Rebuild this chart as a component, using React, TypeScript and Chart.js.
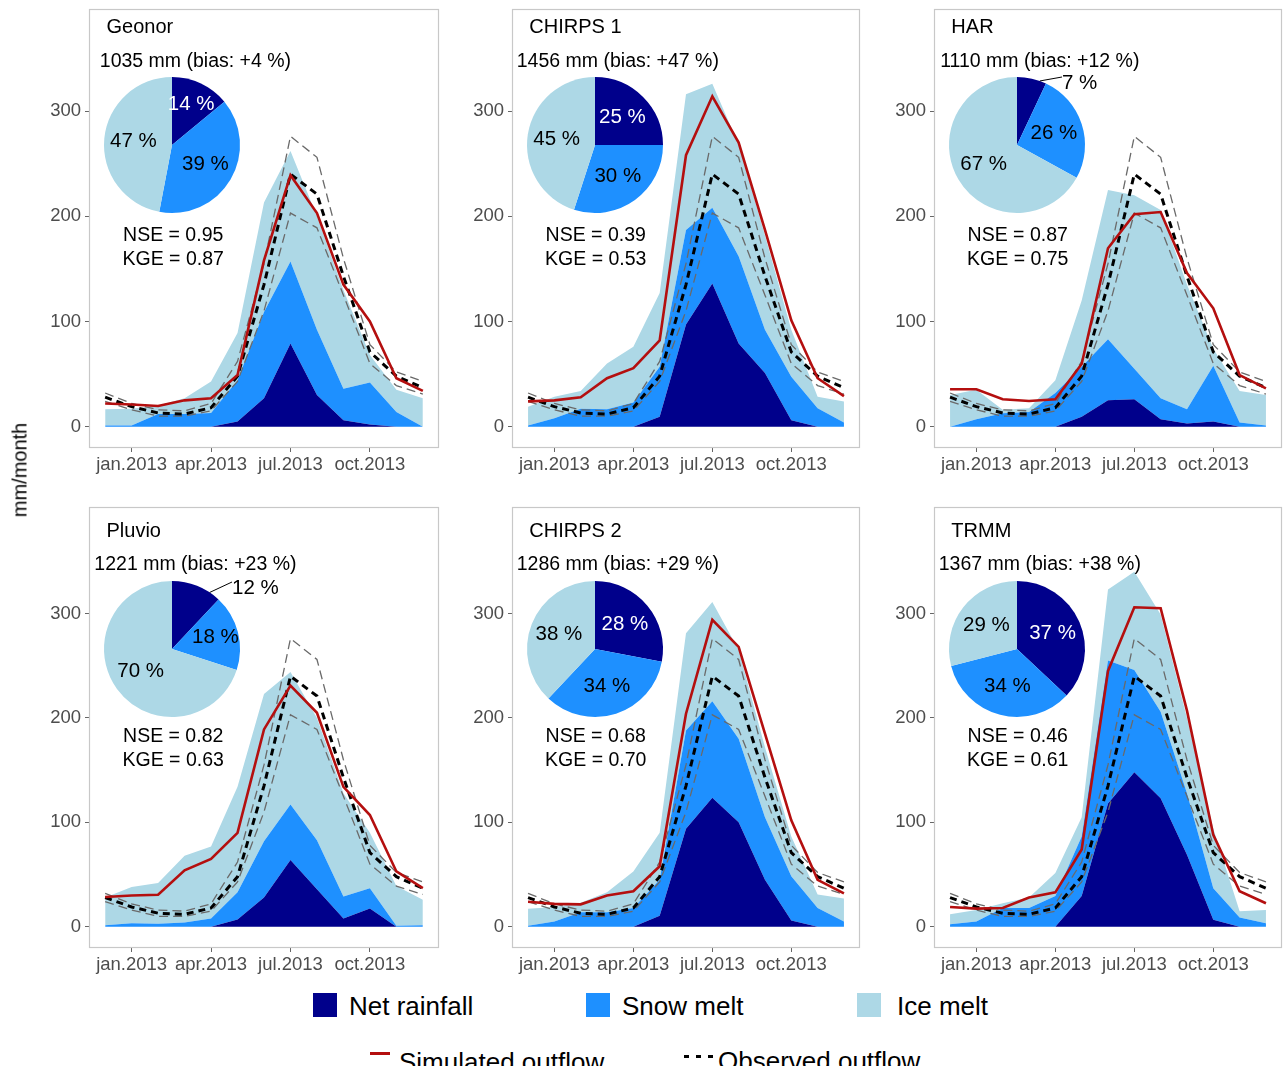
import React, { useEffect, useRef } from "react";
import { Chart, registerables } from "chart.js";
Chart.register(...registerables);

// ---------------- DATA ----------------
const monthLabels = ["dec.2012", "jan.2013", "feb.2013", "mar.2013", "apr.2013", "may.2013", "jun.2013", "jul.2013", "aug.2013", "sep.2013", "oct.2013", "nov.2013", "dec.2013"];
const xTickPositions = [1, 4, 7, 10];
const xTickLabels = ["jan.2013", "apr.2013", "jul.2013", "oct.2013"];
const yTickValues = [0, 100, 200, 300];

const observedOutflow = [28, 19, 13, 12, 18, 48, 135, 240, 221, 143, 71, 48, 37];
const observedUpper = [32, 22, 16, 15, 22, 62, 155, 276, 256, 160, 78, 52, 43];
const observedLower = [24, 16, 10, 10, 15, 43, 110, 203, 189, 125, 60, 39, 31];

const panelNames = ["Geonor", "CHIRPS 1", "HAR", "Pluvio", "CHIRPS 2", "TRMM"];
const annualTotals = [1035, 1456, 1110, 1221, 1286, 1367];
const biasPercent = [4, 47, 12, 23, 29, 38];
const nseValues = ["0.95", "0.39", "0.87", "0.82", "0.68", "0.46"];
const kgeValues = ["0.87", "0.53", "0.75", "0.63", "0.70", "0.61"];

// pie shares: [net rainfall, snow melt, ice melt]
const pieShares = [
  [14, 39, 47],
  [25, 30, 45],
  [7, 26, 67],
  [12, 18, 70],
  [28, 34, 38],
  [37, 34, 29],
];

const netRainfall = [
  [0, 0, 0, 0, 0, 5, 27, 79, 30, 6, 2, 0, 0],
  [0, 0, 0, 0, 0, 9.5, 97, 136, 79, 51, 6, 0, 0],
  [0, 0, 0, 0, 0, 9.5, 25, 26, 7, 3, 5, 0, 0],
  [0, 0, 0, 0, 0, 7, 28, 64, 36, 8, 17.5, 0, 0],
  [0, 0, 0, 0, 0, 10.5, 94, 123.5, 100, 45, 6, 0, 0],
  [0, 0, 0, 0, 0, 29.5, 118, 148, 123, 69, 6.7, 0, 0],
];
const snowMelt = [
  [1, 1, 12, 12, 13, 39, 82, 78, 62, 30, 40, 14, 0],
  [1, 8, 17, 16.5, 23, 47.5, 90, 72, 83, 41, 41.5, 17.5, 4],
  [0, 7, 12.7, 14, 32, 47.5, 58, 29, 20, 13.5, 53, 4, 1],
  [1.5, 3.5, 3, 4, 8, 26, 54, 53, 47, 21, 19.5, 1, 1.5],
  [1, 5, 14, 14, 18, 34.5, 94, 92.5, 80, 60, 42.5, 18, 5],
  [2.5, 5, 18, 18, 29.5, 57, 137, 98, 83, 59, 30.3, 9, 3.5],
];
const iceMelt = [
  [15.5, 16, 8, 15, 30, 45, 104, 105, 108, 94, 26, 21, 27],
  [18, 20.5, 17, 43.5, 53, 70, 129, 118, 106, 90, 44.5, 11, 20],
  [30, 28, 3.3, 3.5, 12, 63, 142, 165, 179, 118.5, 16, 30, 29],
  [26.5, 34.5, 39, 64, 69, 101, 141, 127, 117, 99, 53, 38, 24.5],
  [16.4, 14, 9, 19, 35, 45, 93, 95, 85, 67, 38, 13, 22],
  [9.5, 11, 4.5, 10, 22.1, 18.5, 68, 94, 93, 72, 57, 6, 12.5],
];
const simulatedOutflow = [
  [22, 21, 19.6, 25, 27, 49, 158, 239, 203, 135, 100, 46, 34],
  [24, 25, 28, 46, 55.5, 82, 258, 314, 270, 187, 101, 46, 29],
  [35.5, 35.5, 26, 24.4, 26, 59.6, 169.5, 202, 204, 146, 112.5, 49, 36.4],
  [28.5, 30, 30.7, 54, 65, 90, 189, 231, 205, 134, 107, 53, 37],
  [24, 22, 21.5, 30, 34, 58, 204, 294, 268, 185, 102, 45, 32],
  [19, 17.4, 18, 28, 33, 74, 245, 306, 305, 207, 88, 34, 22.5],
];

const legendComponents = ["Net rainfall", "Snow melt", "Ice melt"];

// ---------------- STYLE / LAYOUT ----------------
const FONT = '"Liberation Sans", Arial, Helvetica, sans-serif';
const NAVY = "#00008B";
const DODGER = "#1E90FF";
const LIGHT = "#ADD8E6";
const RED = "#B40F0F";
const COMPONENT_COLORS = [NAVY, DODGER, LIGHT];

const COL_LEFT = [89, 512, 934];
const COL_RIGHT = [439, 860, 1282];
const ROW_TOP = [9, 507];
const ROW_BOTTOM = [448, 948];
const Y_RANGE = [
  [-20.3, 397],
  [-20.3, 402],
];
const X_MIN = -0.61;
const X_MAX = 12.61;
const AXIS_W = 60;
const AXIS_H = 36;
const PAD_TOP = 2;
const PAD_RIGHT = 3;

const TITLE_POS = { x: 0.05, y: 379 };
const TOTAL_POS = { x: 3.41, y: 347 };
const NSE_POS = { x: 2.57, y: 182 };
const KGE_POS = { x: 2.57, y: 159 };

const PIE_CENTER_DX = 82.5;
const PIE_CENTER_Y = [145.3, 649];
const PIE_RADIUS = 68;
const PIE_CANVAS = 240;
const PIE_OUTSIDE = [null, null, { dx: 45, dy: -62 }, { dx: 60, dy: -61 }, null, null];

const toPoints = (arr: number[]) => arr.map((v, i) => ({ x: i, y: v }));

function Panel({ idx }: { idx: number }) {
  const ref = useRef<HTMLCanvasElement | null>(null);
  const pieRef = useRef<HTMLCanvasElement | null>(null);
  const row = Math.floor(idx / 3);
  const col = idx % 3;
  const left = COL_LEFT[col] - AXIS_W;
  const top = ROW_TOP[row] - PAD_TOP;
  const w = COL_RIGHT[col] - COL_LEFT[col] + AXIS_W + PAD_RIGHT;
  const h = ROW_BOTTOM[row] - ROW_TOP[row] + PAD_TOP + AXIS_H;
  const pcx = COL_LEFT[col] + PIE_CENTER_DX;
  const pcy = PIE_CENTER_Y[row];

  useEffect(() => {
    const lineBase = { pointRadius: 0, tension: 0, fill: false };
    const areaBase = {
      pointRadius: 0,
      tension: 0,
      stack: "components",
      borderWidth: 0,
      borderColor: "rgba(0,0,0,0)",
      order: 10,
    };
    const tickFont = { family: FONT, size: 18.5 };
    const textPlugin = {
      id: "panelText",
      afterDatasetsDraw(chart: any) {
        const { ctx, scales } = chart;
        const xs = scales.x;
        const ys = scales.y;
        ctx.save();
        ctx.fillStyle = "#000";
        ctx.textBaseline = "middle";
        ctx.font = `20px ${FONT}`;
        ctx.textAlign = "left";
        ctx.fillText(panelNames[idx], xs.getPixelForValue(TITLE_POS.x), ys.getPixelForValue(TITLE_POS.y));
        ctx.font = `19.5px ${FONT}`;
        ctx.textAlign = "center";
        ctx.fillText(
          `${annualTotals[idx]} mm (bias: +${biasPercent[idx]} %)`,
          xs.getPixelForValue(TOTAL_POS.x),
          ys.getPixelForValue(TOTAL_POS.y)
        );
        ctx.fillText(`NSE = ${nseValues[idx]}`, xs.getPixelForValue(NSE_POS.x), ys.getPixelForValue(NSE_POS.y));
        ctx.fillText(`KGE = ${kgeValues[idx]}`, xs.getPixelForValue(KGE_POS.x), ys.getPixelForValue(KGE_POS.y));
        ctx.restore();
      },
      afterDraw(chart: any) {
        const { ctx, chartArea } = chart;
        ctx.save();
        ctx.strokeStyle = "#c8c8c8";
        ctx.lineWidth = 1.2;
        ctx.strokeRect(chartArea.left + 0.5, chartArea.top + 0.5, chartArea.right - chartArea.left - 1, chartArea.bottom - chartArea.top - 1);
        ctx.restore();
      },
    };

    const chart = new Chart(ref.current as HTMLCanvasElement, {
      type: "line",
      data: {
        datasets: [
          { ...areaBase, label: legendComponents[0], data: toPoints(netRainfall[idx]), fill: "origin", backgroundColor: NAVY },
          { ...areaBase, label: legendComponents[1], data: toPoints(snowMelt[idx]), fill: "-1", backgroundColor: DODGER },
          { ...areaBase, label: legendComponents[2], data: toPoints(iceMelt[idx]), fill: "-1", backgroundColor: LIGHT },
          { ...lineBase, label: "upper", stack: "u", data: toPoints(observedUpper), borderColor: "#6a6a6a", borderWidth: 1.3, borderDash: [9, 5], order: 4 },
          { ...lineBase, label: "lower", stack: "l", data: toPoints(observedLower), borderColor: "#6a6a6a", borderWidth: 1.3, borderDash: [9, 5], order: 4 },
          { ...lineBase, label: "Observed outflow", stack: "o", data: toPoints(observedOutflow), borderColor: "#000", borderWidth: 3, borderDash: [7, 5], order: 3 },
          { ...lineBase, label: "Simulated outflow", stack: "s", data: toPoints(simulatedOutflow[idx]), borderColor: RED, borderWidth: 2.6, order: 2 },
        ] as any,
      },
      options: {
        responsive: false,
        animation: false,
        events: [],
        layout: { padding: { top: PAD_TOP, right: PAD_RIGHT, left: 0, bottom: 0 } },
        plugins: { legend: { display: false }, tooltip: { enabled: false } },
        scales: {
          x: {
            type: "linear",
            min: X_MIN,
            max: X_MAX,
            afterBuildTicks: (s: any) => {
              s.ticks = xTickPositions.map((v) => ({ value: v }));
            },
            afterFit: (s: any) => {
              s.height = AXIS_H;
              s.paddingLeft = 0;
              s.paddingRight = 0;
              s.paddingTop = 0;
              s.paddingBottom = 0;
            },
            ticks: {
              autoSkip: false,
              maxRotation: 0,
              padding: 2,
              color: "#4d4d4d",
              font: tickFont,
              callback: (v: any) => {
                const k = xTickPositions.indexOf(Number(v));
                return k >= 0 ? xTickLabels[k] : "";
              },
            },
            grid: { drawOnChartArea: false, drawTicks: true, tickLength: 4, color: "#666" },
            border: { display: false },
          },
          y: {
            type: "linear",
            stacked: true,
            min: Y_RANGE[row][0],
            max: Y_RANGE[row][1],
            afterBuildTicks: (s: any) => {
              s.ticks = yTickValues.map((v) => ({ value: v }));
            },
            afterFit: (s: any) => {
              s.width = AXIS_W;
              s.paddingTop = 0;
              s.paddingBottom = 0;
              s.paddingLeft = 0;
              s.paddingRight = 0;
            },
            ticks: { padding: 4, color: "#4d4d4d", font: tickFont },
            grid: { drawOnChartArea: false, drawTicks: true, tickLength: 4, color: "#666" },
            border: { display: false },
          },
        },
      } as any,
      plugins: [textPlugin],
    });

    const shares = pieShares[idx];
    const outside = PIE_OUTSIDE[idx];
    const pieLabelPlugin = {
      id: "pieLabels",
      afterDatasetsDraw(c: any) {
        const ctx = c.ctx;
        const meta = c.getDatasetMeta(0);
        ctx.save();
        ctx.font = `20.5px ${FONT}`;
        ctx.textBaseline = "middle";
        meta.data.forEach((arc: any, k: number) => {
          const p = arc.getProps(["startAngle", "endAngle", "x", "y", "outerRadius"], true);
          const mid = (p.startAngle + p.endAngle) / 2;
          const text = `${shares[k]} %`;
          if (k === 0 && outside) {
            const a = p.startAngle + 0.78 * (p.endAngle - p.startAngle);
            const sx = p.x + Math.cos(a) * p.outerRadius;
            const sy = p.y + Math.sin(a) * p.outerRadius;
            const lx = p.x + outside.dx;
            const ly = p.y + outside.dy;
            ctx.strokeStyle = "#000";
            ctx.lineWidth = 1;
            ctx.beginPath();
            ctx.moveTo(sx, sy);
            ctx.lineTo(lx, ly - 6);
            ctx.stroke();
            ctx.fillStyle = "#000";
            ctx.textAlign = "left";
            ctx.fillText(text, lx, ly);
            return;
          }
          const r = p.outerRadius * (shares[k] < 20 ? 0.66 : 0.57);
          ctx.fillStyle = k === 0 ? "#fff" : "#000";
          ctx.textAlign = "center";
          ctx.fillText(text, p.x + Math.cos(mid) * r, p.y + Math.sin(mid) * r);
        });
        ctx.restore();
      },
    };

    const pie = new Chart(pieRef.current as HTMLCanvasElement, {
      type: "pie",
      data: {
        labels: legendComponents,
        datasets: [{ data: shares, backgroundColor: COMPONENT_COLORS, borderWidth: 0 }],
      },
      options: {
        responsive: false,
        animation: false,
        events: [],
        radius: PIE_RADIUS,
        layout: { padding: 0 },
        plugins: { legend: { display: false }, tooltip: { enabled: false } },
      } as any,
      plugins: [pieLabelPlugin],
    });

    return () => {
      chart.destroy();
      pie.destroy();
    };
  }, [idx]);

  return (
    <>
      <canvas ref={ref} width={w} height={h} style={{ position: "absolute", left, top, width: w, height: h }} />
      <canvas
        ref={pieRef}
        width={PIE_CANVAS}
        height={PIE_CANVAS}
        style={{
          position: "absolute",
          left: Math.round(pcx - PIE_CANVAS / 2),
          top: Math.round(pcy - PIE_CANVAS / 2),
          width: PIE_CANVAS,
          height: PIE_CANVAS,
        }}
      />
    </>
  );
}

const legendText: React.CSSProperties = {
  position: "absolute",
  fontFamily: FONT,
  fontSize: 26,
  lineHeight: "30px",
  color: "#000",
  whiteSpace: "nowrap",
};

export default function App() {
  const boxLefts = [313, 586, 857];
  const textLefts = [349, 622, 897];
  return (
    <div
      style={{
        position: "absolute",
        left: 0,
        top: 0,
        width: 1287,
        height: 1066,
        overflow: "hidden",
        background: "#fff",
        fontFamily: FONT,
      }}
    >
      {panelNames.map((_, i) => (
        <Panel key={i} idx={i} />
      ))}
      <div
        style={{
          position: "absolute",
          left: 20,
          top: 470,
          transform: "translate(-50%, -50%) rotate(-90deg)",
          fontFamily: FONT,
          fontSize: 20,
          whiteSpace: "nowrap",
          color: "#000",
        }}
      >
        mm/month
      </div>
      {legendComponents.map((name, i) => (
        <React.Fragment key={name}>
          <div style={{ position: "absolute", left: boxLefts[i], top: 993, width: 24, height: 24, background: COMPONENT_COLORS[i] }} />
          <div style={{ ...legendText, left: textLefts[i], top: 991 }}>{name}</div>
        </React.Fragment>
      ))}
      <div style={{ position: "absolute", left: 370, top: 1052, width: 20, height: 3, background: RED }} />
      <div style={{ ...legendText, left: 399, top: 1047 }}>Simulated outflow</div>
      {[684, 696, 708].map((x) => (
        <div key={x} style={{ position: "absolute", left: x, top: 1055, width: 5, height: 3, background: "#000" }} />
      ))}
      <div style={{ ...legendText, left: 718, top: 1046 }}>Observed outflow</div>
    </div>
  );
}
